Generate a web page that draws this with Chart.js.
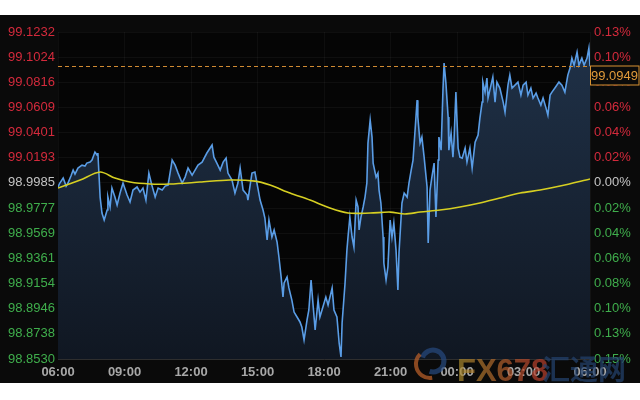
<!DOCTYPE html>
<html>
<head>
<meta charset="utf-8">
<script src="https://cdn.jsdelivr.net/npm/chart.js@4.4.1/dist/chart.umd.min.js"></script>
<style>
  html, body { margin: 0; padding: 0; background: #ffffff; width: 640px; height: 400px; overflow: hidden; }
  #wrap { position: absolute; left: 0; top: 15px; width: 640px; height: 368px; }
</style>
</head>
<body>
<div id="wrap"><canvas id="c" width="640" height="368"></canvas></div>
<script>
const basePrice = 98.9985;
const lastPrice = 99.0949;
const yTicks = [99.1232, 99.1024, 99.0816, 99.0609, 99.0401, 99.0193, 98.9985, 98.9777, 98.9569, 98.9361, 98.9154, 98.8946, 98.8738, 98.8530];
const pctLabels = ['0.13%','0.10%','0.08%','0.06%','0.04%','0.02%','0.00%','0.02%','0.04%','0.06%','0.08%','0.10%','0.13%','0.15%'];
const xLabels = ['06:00','09:00','12:00','15:00','18:00','21:00','00:00','03:00','06:00'];

// minutes since 06:00
const priceTimes = [0,5,14,22,27,35,41,46,54,65,73,78,87,92,100,106,108,111,114,119,125,133,135,141,146,154,160,168,176,187,195,203,214,222,230,238,246,254,263,271,282,290,298,309,317,325,336,344,352,363,371,379,390,403,417,422,430,439,447,455,460,471,479,487,493,501,512,514,525,533,541,547,555,560,566,571,579,585,593,598,604,609,612,620,625,633,639,647,655,660,666,674,679,685,690,696,704,709,717,725,731,742,747,755,761,766,769,777,782,785,790,796,801,807,812,815,820,826,831,836,839,845,850,853,861,866,869,874,880,882,888,893,899,904,909,915,920,923,931,937,945,950,956,961,966,972,974,980,985,991,999,1002,1007,1012,1018,1023,1029,1031,1037,1042,1045,1050,1056,1058,1064,1069,1072,1077,1083,1088,1094,1102,1107,1115,1121,1129,1137,1142,1148,1150,1156,1161,1164,1172,1177,1183,1188,1196,1205,1210,1218,1223,1229,1237,1245,1253,1259,1267,1272,1280,1286,1294,1299,1307,1313,1321,1326,1332,1337,1345,1356,1364,1372,1380,1386,1391,1397,1405,1410,1418,1424,1432,1437,1440];
const prices = [98.9951,98.9984,99.0025,98.9959,98.9984,99.0042,99.0091,99.0058,99.0108,99.0132,99.0124,99.0149,99.0157,99.0174,99.0240,99.0215,99.0232,99.0050,98.9868,98.9736,98.9678,98.9761,98.9868,98.9786,98.9942,98.9868,98.9802,98.9901,98.9984,98.9885,98.9827,98.9926,98.9951,98.9909,98.9942,98.9843,99.0066,98.9967,98.9868,98.9942,98.9926,98.9959,98.9967,99.0174,99.0132,99.0066,98.9984,99.0033,99.0108,99.0050,99.0091,99.0132,99.0157,99.0232,99.0298,99.0198,99.0149,99.0091,99.0157,99.0190,99.0066,99.0009,98.9901,98.9984,99.0108,98.9926,98.9885,98.9843,99.0066,99.0075,98.9942,98.9843,98.9761,98.9695,98.9513,98.9678,98.9538,98.9596,98.9496,98.9373,98.9207,98.9042,98.9158,98.9207,98.9117,98.9017,98.8918,98.8877,98.8836,98.8794,98.8687,98.8852,98.8935,98.9183,98.8993,98.8770,98.9017,98.8877,98.8960,98.9042,98.8976,98.9117,98.8935,98.8877,98.8662,98.8547,98.8827,98.9158,98.9430,98.9538,98.9703,98.9538,98.9455,98.9843,98.9786,98.9596,98.9703,98.9786,98.9868,98.9984,99.0314,99.0504,99.0364,99.0149,99.0033,99.0066,98.9926,98.9819,98.9538,98.9323,98.9183,98.9290,98.9678,98.9538,98.9653,98.9430,98.9100,98.9406,98.9819,98.9901,98.9868,98.9984,99.0091,99.0174,99.0397,99.0669,99.0529,99.0314,99.0364,99.0198,98.9951,98.9488,98.9926,99.0033,99.0149,98.9703,99.0174,99.0364,99.0256,99.0752,99.0975,99.0810,99.0529,99.0256,99.0397,99.0198,99.0339,99.0735,99.0273,99.0198,99.0190,99.0273,99.0157,99.0273,99.0108,99.0322,99.0380,99.0521,99.0653,99.0818,99.0735,99.0851,99.0686,99.0793,99.0859,99.0653,99.0818,99.0769,99.0653,99.0570,99.0793,99.0876,99.0769,99.0793,99.0818,99.0711,99.0793,99.0818,99.0711,99.0769,99.0686,99.0727,99.0686,99.0628,99.0686,99.0603,99.0545,99.0711,99.0735,99.0769,99.0818,99.0793,99.0735,99.0876,99.0934,99.1016,99.0958,99.1066,99.0958,99.1016,99.0958,99.1016,99.1099,99.0949];

const maTimes = [0,60,114,154,195,249,303,384,466,533,574,628,682,736,785,845,899,939,980,1034,1088,1142,1196,1251,1305,1359,1440];
const maValues = [98.9942,99.0009,99.0075,99.0025,98.9992,98.9976,98.9976,98.9992,99.0009,99.0000,98.9967,98.9901,98.9843,98.9777,98.9736,98.9736,98.9744,98.9728,98.9744,98.9761,98.9786,98.9819,98.9860,98.9901,98.9926,98.9959,99.0017];

const RED = '#d42a3c', GREEN = '#3fae4c', GRAY = '#c4c4c4';
function tickColor(v) {
  if (Math.abs(v - basePrice) < 1e-6) return GRAY;
  return v > basePrice ? RED : GREEN;
}
function nearestIdx(v) {
  let b = 0, d = Infinity;
  yTicks.forEach((t, i) => { const e = Math.abs(t - v); if (e < d) { d = e; b = i; } });
  return b;
}

const bgPlugin = {
  id: 'bg',
  beforeDraw(chart) {
    const ctx = chart.ctx;
    ctx.save();
    ctx.fillStyle = '#0a0a0a';
    ctx.fillRect(0, 0, chart.width, chart.height);
    const a = chart.chartArea;
    ctx.fillStyle = '#050505';
    ctx.fillRect(a.left, a.top, a.right - a.left, a.bottom - a.top);
    ctx.restore();
  },
  afterDatasetsDraw(chart) {
    // watermark
    const ctx = chart.ctx;
    ctx.save();
    ctx.globalAlpha = 0.7;
    ctx.strokeStyle = '#274a80';
    ctx.lineWidth = 5;
    ctx.beginPath(); ctx.arc(433, 346, 11, Math.PI * 1.1, Math.PI * 2.6); ctx.stroke();
    ctx.strokeStyle = '#c0622a';
    ctx.lineWidth = 4;
    ctx.beginPath(); ctx.arc(430, 349, 14, Math.PI * 0.45, Math.PI * 1.25); ctx.stroke();
    const g = ctx.createLinearGradient(458, 0, 535, 0);
    g.addColorStop(0, '#a88a2c');
    g.addColorStop(1, '#b8402c');
    ctx.fillStyle = g;
    ctx.font = 'bold 31px "Liberation Sans", Arial, sans-serif';
    ctx.textBaseline = 'alphabetic';
    ctx.fillText('FX678', 457, 366);
    ctx.fillStyle = '#23436f';
    ctx.font = 'bold 28px "Noto Sans CJK SC", sans-serif';
    ctx.fillText('汇通网', 542, 365);
    ctx.restore();
  }
};

const lastPricePlugin = {
  id: 'lastPrice',
  afterDraw(chart) {
    const ctx = chart.ctx;
    const a = chart.chartArea;
    const y = Math.round(chart.scales.y.getPixelForValue(lastPrice)) + 0.5;
    ctx.save();
    ctx.strokeStyle = '#d08a32';
    ctx.lineWidth = 1;
    ctx.setLineDash([4, 3]);
    ctx.beginPath(); ctx.moveTo(a.left, y); ctx.lineTo(a.right, y); ctx.stroke();
    ctx.setLineDash([]);
    ctx.fillStyle = '#0a0a0a';
    ctx.fillRect(a.right, y - 1, chart.width - a.right, 20);
    ctx.strokeStyle = '#d89232';
    ctx.strokeRect(a.right + 0.5, y - 0.5, chart.width - a.right - 1.5, 19);
    ctx.fillStyle = '#e09a3a';
    ctx.font = '13px "Liberation Sans", Arial, sans-serif';
    ctx.textBaseline = 'middle';
    ctx.textAlign = 'left';
    ctx.fillText(lastPrice.toFixed(4), a.right + 1, y + 10);
    ctx.restore();
  }
};

new Chart(document.getElementById('c'), {
  type: 'line',
  data: {
    datasets: [
      {
        label: 'MA',
        data: maTimes.map((t, i) => ({ x: t, y: maValues[i] })),
        borderColor: '#d6cf22',
        borderWidth: 1.6,
        pointRadius: 0,
        fill: false,
        tension: 0.3,
        order: 0
      },
      {
        label: 'Price',
        data: priceTimes.map((t, i) => ({ x: t, y: prices[i] })),
        borderColor: '#5a9de6',
        borderWidth: 1.6,
        pointRadius: 0,
        tension: 0,
        fill: 'start',
        backgroundColor(ctx) {
          const a = ctx.chart.chartArea;
          if (!a) return 'rgba(30,45,65,0.8)';
          const g = ctx.chart.ctx.createLinearGradient(0, a.top, 0, a.bottom);
          g.addColorStop(0, '#203249');
          g.addColorStop(1, '#101722');
          return g;
        },
        order: 1
      }
    ]
  },
  options: {
    responsive: false,
    animation: false,
    events: [],
    layout: { padding: { top: 17, left: 0, right: 0, bottom: 0 } },
    plugins: { legend: { display: false }, tooltip: { enabled: false } },
    scales: {
      x: {
        type: 'linear',
        z: 1,
        min: 0, max: 1440,
        afterBuildTicks(scale) { scale.ticks = xLabels.map((l, i) => ({ value: i * 180 })); },
        afterFit(scale) { scale.height = 24; },
        grid: { color: 'rgba(255,255,255,0.04)', drawTicks: false },
        border: { color: '#2e2e2e' },
        ticks: {
          padding: 6,
          maxRotation: 0,
          autoSkip: false,
          color: '#a8a8a8',
          font: { family: '"Liberation Sans", Arial, sans-serif', size: 13, weight: 'bold' },
          callback(v, i) { return xLabels[i]; }
        }
      },
      y: {
        position: 'left',
        min: 98.8530, max: 99.1232,
        afterBuildTicks(scale) { scale.ticks = yTicks.slice().reverse().map(v => ({ value: v })); },
        afterFit(scale) { scale.width = 58; },
        grid: { color: 'rgba(255,255,255,0.045)', drawTicks: false },
        border: { display: false },
        ticks: {
          padding: 3,
          autoSkip: false,
          color(ctx) { return tickColor(ctx.tick.value); },
          font: { family: '"Liberation Sans", Arial, sans-serif', size: 13 },
          callback(v) { return yTicks[nearestIdx(v)].toFixed(4); }
        }
      },
      y2: {
        position: 'right',
        z: 1,
        min: 98.8530, max: 99.1232,
        afterBuildTicks(scale) { scale.ticks = yTicks.slice().reverse().map(v => ({ value: v })); },
        afterFit(scale) { scale.width = 50; },
        grid: { display: false, drawTicks: false },
        border: { display: false },
        ticks: {
          padding: 4,
          autoSkip: false,
          color(ctx) { return tickColor(ctx.tick.value); },
          font: { family: '"Liberation Sans", Arial, sans-serif', size: 13 },
          callback(v) { return pctLabels[nearestIdx(v)]; }
        }
      }
    }
  },
  plugins: [bgPlugin, lastPricePlugin]
});
</script>
</body>
</html>
